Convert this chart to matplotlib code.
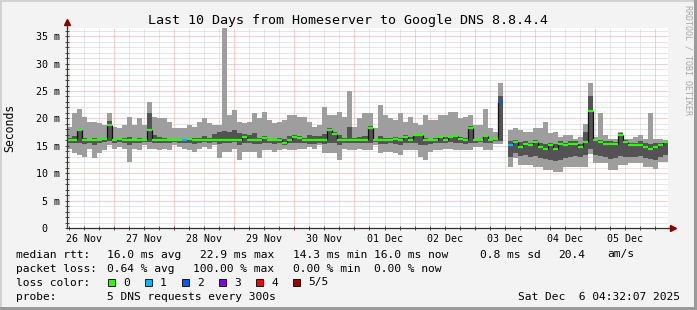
import numpy as np
import matplotlib
matplotlib.use("Agg")
import matplotlib.pyplot as plt
from matplotlib.patches import Rectangle

# Smokeping data: 2-hour samples, days counted from 26 Nov 00:00
t_start = 0.217
step_h = 2.0

rtt_max = [18.5, 20.9, 21.8, 20.3, 19.4, 19.4, 19.1, 18.8, 20.9, 18.5,
           18.2, 18.8, 20.3, 18.8, 20.0, 18.8, 23.0, 20.3, 20.0, 20.0,
           19.4, 18.2, 18.2, 18.2, 18.8, 18.5, 19.4, 20.0, 19.1, 18.8,
           18.8, 36.6, 20.6, 21.5, 19.4, 19.1, 19.4, 20.9, 20.0, 21.2,
           19.7, 19.1, 19.4, 19.7, 20.6, 20.6, 20.3, 20.3, 19.4, 18.5,
           18.8, 22.1, 20.6, 20.6, 21.2, 20.3, 25.0, 18.5, 20.0, 20.9,
           20.9, 18.2, 22.4, 20.6, 20.0, 19.7, 20.9, 19.4, 20.3, 19.1,
           18.8, 20.6, 19.7, 19.7, 20.6, 20.6, 21.2, 21.2, 20.0, 20.3,
           20.6, 18.8, 18.8, 21.8, 18.2, 17.5, 26.5, np.nan, 17.9, 18.2,
           17.9, 17.6, 17.6, 18.2, 18.2, 19.4, 17.3, 17.6, 16.6, 17.0,
           17.0, 16.3, 16.6, 19.0, 26.5, 16.6, 21.0, 17.0, 16.3, 16.3,
           17.6, 16.3, 16.3, 16.6, 17.0, 16.3, 20.9, 16.3, 16.3, 16.0]

rtt_min = [14.5, 13.6, 13.3, 13.0, 14.5, 12.7, 13.6, 14.2, 15.1, 14.5,
           14.8, 14.5, 12.1, 14.5, 14.2, 15.1, 14.5, 14.5, 14.2, 14.5,
           14.2, 15.1, 14.8, 14.5, 14.2, 13.9, 14.5, 14.8, 14.5, 15.1,
           12.7, 13.9, 13.9, 14.5, 12.4, 13.9, 13.9, 13.9, 12.7, 14.2,
           14.2, 13.9, 14.2, 14.5, 14.2, 14.2, 14.5, 14.5, 14.8, 14.5,
           15.1, 13.6, 13.6, 13.6, 12.4, 14.5, 14.2, 14.2, 14.5, 14.2,
           14.2, 15.1, 13.6, 13.9, 13.9, 13.6, 13.3, 14.2, 14.2, 14.2,
           13.0, 12.4, 13.9, 14.2, 14.2, 14.5, 14.5, 14.2, 14.2, 14.2,
           14.2, 14.8, 14.8, 14.2, 14.2, 15.4, 15.4, np.nan, 11.2, 12.7,
           11.5, 11.5, 11.5, 11.2, 11.2, 10.5, 10.5, 10.2, 10.2, 11.2,
           11.2, 11.2, 11.2, 11.2, 13.5, 11.8, 11.8, 11.8, 10.5, 10.5,
           11.5, 11.5, 11.8, 11.8, 11.8, 11.2, 11.2, 10.8, 12.1, 12.1]

inner_hi = [16.4, 16.7, 18.0, 16.5, 16.3, 16.5, 16.3, 16.5, 19.5, 16.3,
            16.3, 16.4, 16.6, 16.3, 16.5, 16.3, 21.0, 16.9, 16.6, 16.5,
            16.3, 16.3, 16.3, 16.3, 16.5, 16.4, 16.5, 16.7, 16.4, 17.2,
            17.5, 17.7, 17.5, 17.9, 17.3, 17.2, 17.0, 17.3, 16.5, 16.7,
            16.3, 16.3, 16.5, 16.3, 16.7, 17.0, 16.7, 16.5, 16.9, 16.7,
            16.8, 17.1, 18.3, 17.6, 16.9, 16.5, 18.5, 16.4, 16.6, 16.7,
            18.6, 16.3, 16.7, 16.5, 16.4, 16.6, 16.5, 16.9, 16.6, 17.1,
            17.2, 16.5, 16.3, 16.4, 16.7, 16.6, 16.8, 17.0, 16.6, 16.5,
            18.6, 16.3, 16.3, 16.8, 16.3, 16.5, 24.0, np.nan, 15.8, 16.0,
            15.7, 15.8, 15.5, 16.0, 15.6, 15.4, 15.6, 15.3, 15.8, 15.6,
            15.8, 15.8, 15.4, 17.5, 24.1, 16.2, 16.0, 15.8, 15.8, 15.7,
            17.3, 16.0, 15.6, 15.6, 15.8, 15.5, 15.4, 15.5, 15.6, 15.8]

inner_lo = [15.5, 15.5, 15.6, 15.4, 15.6, 15.2, 15.5, 15.7, 15.8, 15.6,
            15.7, 15.6, 15.2, 15.5, 15.6, 15.7, 15.7, 15.6, 15.5, 15.6,
            15.5, 15.7, 15.6, 15.6, 15.5, 15.4, 15.6, 15.7, 15.5, 15.7,
            15.3, 15.5, 15.6, 15.7, 15.2, 15.5, 15.5, 15.4, 15.3, 15.6,
            15.5, 15.4, 15.5, 15.2, 15.5, 15.6, 15.6, 15.6, 15.4, 15.3,
            15.5, 15.3, 15.6, 15.6, 15.2, 15.5, 15.5, 15.5, 15.6, 15.5,
            15.6, 15.7, 15.4, 15.3, 15.5, 15.4, 15.2, 15.5, 15.6, 15.6,
            15.2, 15.2, 15.4, 15.5, 15.6, 15.6, 15.7, 15.5, 15.5, 15.4,
            15.5, 15.6, 15.7, 15.5, 15.5, 15.8, 15.8, np.nan, 13.0, 13.6,
            13.2, 13.3, 13.0, 13.2, 12.8, 12.6, 12.4, 12.2, 12.5, 12.8,
            13.0, 13.2, 12.9, 13.4, 14.5, 13.4, 13.2, 13.0, 12.6, 12.7,
            13.2, 13.0, 13.0, 12.9, 13.1, 12.8, 12.6, 12.4, 13.0, 13.3]

median = [16.0, 16.0, 17.8, 16.0, 16.0, 16.0, 16.0, 16.3, 18.8, 16.0,
          16.2, 16.0, 16.0, 16.0, 16.0, 16.0, 17.8, 16.0, 16.0, 16.0,
          16.0, 16.0, 16.0, 16.0, 16.3, 16.0, 16.0, 16.0, 16.0, 16.0,
          16.0, 16.0, 16.0, 16.0, 16.0, 16.6, 16.0, 16.0, 16.0, 16.5,
          16.0, 16.0, 16.0, 15.6, 16.0, 16.6, 16.4, 16.0, 16.0, 16.0,
          16.0, 16.0, 17.8, 17.2, 16.0, 16.0, 16.0, 16.0, 16.0, 16.0,
          18.3, 16.0, 16.0, 16.0, 16.0, 16.3, 16.0, 16.6, 16.0, 16.9,
          17.0, 16.0, 16.0, 16.0, 16.6, 16.0, 16.6, 16.8, 16.3, 16.0,
          18.2, 16.0, 16.0, 16.8, 16.0, 16.3, 23.0, np.nan, 15.2, 15.7,
          14.8, 15.4, 15.1, 15.7, 14.8, 14.5, 15.1, 14.5, 15.4, 15.1,
          15.4, 15.4, 14.8, 15.7, 21.4, 16.0, 15.7, 15.4, 15.4, 15.4,
          17.0, 15.7, 15.1, 15.1, 15.1, 14.8, 14.5, 14.8, 15.1, 15.7]

# lost pings per sample (out of 5)
loss = [0] * 120
loss[23] = 1
loss[86] = 2
loss[88] = 1

loss_labels = ["0", "1", "2", "3", "4", "5/5"]
loss_colors = ["#26ff00", "#00b8ff", "#0059ff", "#7e00ff", "#ff0000", "#a10000"]

day_labels = ["26 Nov", "27 Nov", "28 Nov", "29 Nov", "30 Nov",
              "01 Dec", "02 Dec", "03 Dec", "04 Dec", "05 Dec"]
y_ticks = [0, 5, 10, 15, 20, 25, 30, 35]
y_tick_labels = ["0  ", "5 m", "10 m", "15 m", "20 m", "25 m", "30 m", "35 m"]

legend_rows = [
    [("median rtt:", 16), ("16.0 ms avg", 107), ("22.9 ms max", 200),
     ("14.3 ms min", 293), ("16.0 ms now", 374), ("0.8 ms sd", 480),
     ("20.4", 558), ("am/s", 607)],
    [("packet loss:", 16), ("0.64 % avg", 107), ("100.00 % max", 193),
     ("0.00 % min", 293), ("0.00 % now", 374)],
    [("loss color:", 16)],
    [("probe:", 16), ("5 DNS requests every 300s", 107)],
]
stamp = "Sat Dec  6 04:32:07 2025"

# ---------------------------------------------------------------
W, H = 697, 310
FONT = "DejaVu Sans Mono"
plt.rcParams["font.family"] = FONT
LEG_FS = 8.1

LIGHT = "#9e9e9e"
DARK = "#535353"


def fx(x):
    return x / W


def fy(y):
    return 1 - y / H


fig = plt.figure(figsize=(W / 100, H / 100), dpi=100, facecolor="#f3f3f3")
ax = fig.add_axes([fx(67), fy(228), 601 / W, 200 / H])
ax.set_facecolor("white")

n = len(median)
step = step_h / 24.0
left = t_start + np.arange(n) * step
hi = np.array(rtt_max)
lo = np.array(rtt_min)
ihi = np.array(inner_hi)
ilo = np.array(inner_lo)
med = np.array(median)

ax.bar(left, hi - lo, width=step, bottom=lo, align="edge", color=LIGHT,
       linewidth=0, antialiased=False, zorder=1)
ax.bar(left, ihi - ilo, width=step, bottom=ilo, align="edge", color=DARK,
       linewidth=0, antialiased=False, zorder=2)

# median: black risers, coloured level segments
for i in range(1, n):
    if not np.isnan(med[i]) and not np.isnan(med[i - 1]):
        ax.vlines(left[i], med[i - 1], med[i], color="#111111", lw=0.9, zorder=4)
for i in range(n):
    if not np.isnan(med[i]):
        ax.hlines(med[i], left[i], left[i] + step, color=loss_colors[loss[i]],
                  lw=1.6, zorder=5)

x0, x1 = t_start, t_start + 10
y_top = 36.5
ax.set_xlim(x0, x1)
ax.set_ylim(0, y_top)

# grid (behind the smoke)
minor_x = [k / 4 for k in range(1, 42) if k % 4 and x0 < k / 4 < x1]
major_x = [d for d in range(1, 11) if x0 < d < x1]
minor_y = [v for v in range(1, 37) if v % 5]
major_y = [v for v in range(5, 37, 5)]
ax.vlines(minor_x, 0, y_top, colors="#cfcfcf", lw=0.72, linestyles=(0, (1, 1)),
          zorder=0.5)
ax.hlines(minor_y, x0, x1, colors="#cfcfcf", lw=0.72, linestyles=(0, (1, 1)),
          zorder=0.5)
ax.vlines(major_x, 0, y_top, colors="#f2a0a0", lw=0.72, linestyles=(0, (1, 1)),
          zorder=0.6)
ax.hlines(major_y, x0, x1, colors="#f2a0a0", lw=0.72, linestyles=(0, (1, 1)),
          zorder=0.6)

for s in ["top", "right"]:
    ax.spines[s].set_visible(False)
for s in ["left", "bottom"]:
    ax.spines[s].set_color("#333333")
    ax.spines[s].set_linewidth(0.9)
    ax.spines[s].set_zorder(6)

ax.set_yticks(y_ticks, y_tick_labels)
ax.set_yticks(minor_y, minor=True)
ax.set_xticks([d + 0.5 for d in range(10)], day_labels)
ax.set_xticks(minor_x + major_x, minor=True)
ax.xaxis.remove_overlapping_locs = False
ax.tick_params(axis="y", which="both", direction="inout", length=2.5,
               width=0.6, color="#333333", labelsize=7.2, pad=3.6)
ax.tick_params(axis="x", which="major", length=0, labelsize=7.2, pad=4.2)
ax.tick_params(axis="x", which="minor", direction="inout", length=2.5,
               width=0.6, color="#333333")

# axis arrows
ax.plot([0, 0], [1.0, 1.03], color="#333333", lw=0.9, transform=ax.transAxes,
        clip_on=False, zorder=6)
ax.plot([1.0, 1.008], [0, 0], color="#333333", lw=0.9, transform=ax.transAxes,
        clip_on=False, zorder=6)
ax.plot([0], [1.03], marker="^", ms=4, color="#8b0000", transform=ax.transAxes,
        clip_on=False, zorder=7)
ax.plot([1.008], [0], marker=">", ms=4, color="#8b0000", transform=ax.transAxes,
        clip_on=False, zorder=7)

# texts
fig.text(fx(348), fy(24), "Last 10 Days from Homeserver to Google DNS 8.8.4.4",
         ha="center", va="baseline", fontsize=9.6)
fig.text(fx(10), fy(128), "Seconds", rotation=90, ha="center", va="center",
         fontsize=8.3)
fig.text(fx(688), fy(5), "RRDTOOL / TOBI OETIKER", rotation=270, ha="center",
         va="top", fontsize=6, color="#a8a8a8")

baselines = [257.5, 271.5, 285.5, 299.5]
for row, yb in zip(legend_rows, baselines):
    for txt, xp in row:
        fig.text(fx(xp), fy(yb), txt, ha="left", va="baseline", fontsize=LEG_FS)

box_x = [108, 145, 182, 219, 256, 293]
for lab, col, bx in zip(loss_labels, loss_colors, box_x):
    fig.patches.append(Rectangle((fx(bx), fy(286)), 7 / W, 7 / H,
                                 transform=fig.transFigure, facecolor=col,
                                 edgecolor="black", lw=0.6))
    fig.text(fx(bx + 15), fy(285.5), lab, ha="left", va="baseline", fontsize=LEG_FS)

fig.text(fx(680), fy(299.5), stamp, ha="right", va="baseline", fontsize=LEG_FS)

# image frame
fig.patches.append(Rectangle((0, fy(2)), 1, 2 / H, transform=fig.transFigure,
                             facecolor="#d2d2d2", lw=0))
fig.patches.append(Rectangle((0, 0), 2 / W, 1, transform=fig.transFigure,
                             facecolor="#d2d2d2", lw=0))
fig.patches.append(Rectangle((0, 0), 1, 3 / H, transform=fig.transFigure,
                             facecolor="#9a9a9a", lw=0))
fig.patches.append(Rectangle((fx(694), 0), 3 / W, 1, transform=fig.transFigure,
                             facecolor="#9a9a9a", lw=0))

fig.savefig("out.png", dpi=100, facecolor=fig.get_facecolor())
